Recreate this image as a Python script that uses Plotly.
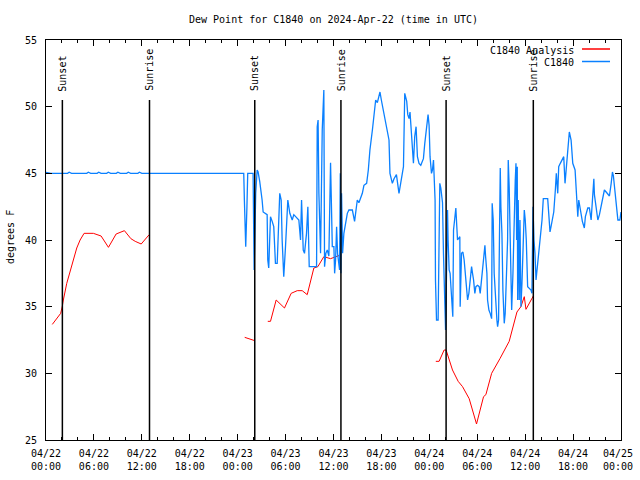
import pandas as pd
import plotly.graph_objects as go

BASE = pd.Timestamp("2024-04-22 00:00")

# Observed dew point (C1840), hours after 2024-04-22 00:00 UTC
obs_hours = [0, 0.6, 2.7, 2.9, 3.2, 5.1, 5.3, 5.6, 6.4, 6.6, 6.9, 7.6, 7.8, 8.1, 8.8, 9.0, 9.3,
             10.1, 10.3, 10.6, 11.5, 11.7, 12.0, 24.76, 24.84, 25.01, 25.16, 25.26, 25.93, 26.01,
             26.06, 26.26, 26.44, 26.56, 26.76, 27.06, 27.19, 27.69, 27.77, 27.89, 28.11, 28.32,
             28.52, 28.73, 28.95, 29.27, 29.45, 29.57, 29.77, 29.99, 30.28, 30.53, 30.83, 31.03,
             31.66, 31.87, 32.0, 32.21, 32.37, 32.62, 32.79, 32.96, 33.54, 33.88, 33.96, 34.07,
             34.17, 34.38, 34.59, 34.79, 34.88, 35.04, 35.22, 35.42, 35.63, 35.76, 35.85, 36.05,
             36.14, 36.26, 36.39, 36.51, 36.64, 36.76, 36.85, 36.93, 37.01, 37.14, 37.3, 37.52,
             37.73, 37.93, 38.36, 38.64, 38.98, 39.18, 39.61, 39.81, 40.15, 40.36, 40.56, 40.87,
             41.07, 41.28, 41.49, 41.69, 41.82, 41.99, 42.16, 42.41, 42.66, 42.95, 43.07, 43.37,
             43.58, 43.88, 44.2, 44.5, 44.76, 44.92, 45.17, 45.3, 45.46, 45.58, 45.88, 46.01,
             46.17, 46.34, 46.51, 46.71, 46.93, 47.26, 47.43, 47.68, 47.84, 47.97, 48.09, 48.27,
             48.39, 48.52, 48.6, 48.72, 48.77, 48.9, 49.1, 49.15, 49.31, 49.44, 49.52, 49.65,
             49.77, 49.94, 50.03, 50.1, 50.28, 50.35, 50.48, 50.6, 50.78, 50.94, 51.03, 51.19,
             51.32, 51.44, 51.53, 51.82, 51.86, 52.03, 52.2, 52.36, 52.48, 52.61, 52.79, 52.95,
             53.11, 53.29, 53.41, 53.54, 53.7, 53.83, 54.04, 54.24, 54.37, 54.45, 54.62, 54.79,
             54.96, 55.04, 55.21, 55.29, 55.46, 55.62, 55.8, 55.87, 56.0, 56.12, 56.3, 56.46,
             56.55, 56.67, 56.75, 56.88, 56.96, 57.09, 57.21, 57.38, 57.5, 57.63, 57.8, 57.88,
             58.0, 58.13, 58.22, 58.31, 58.47, 58.63, 58.76, 58.85, 58.93, 59.01, 59.06, 59.13,
             59.26, 59.35, 59.47, 59.6, 59.76, 59.89, 60.01, 60.14, 60.31, 60.51, 60.73, 60.85,
             60.98, 61.1, 61.23, 61.36, 61.48, 61.64, 61.77, 61.98, 62.11, 62.27, 62.82, 62.95,
             63.11, 63.24, 63.36, 63.58, 63.78, 63.9, 64.08, 64.2, 64.4, 64.58, 64.83, 64.99,
             65.16, 65.33, 65.53, 65.75, 65.96, 66.25, 66.46, 66.59, 66.71, 66.91, 67.16, 67.41,
             67.54, 67.84, 68.04, 68.26, 68.42, 68.6, 68.67, 68.88, 69.1, 69.3, 69.51, 69.72,
             69.92, 70.14, 70.35, 70.55, 70.77, 70.93, 71.05, 71.18, 71.39, 71.61, 71.86, 72.0]
obs_values = [45.08, 45.0, 45.0, 45.08, 45.0, 45.0, 45.08, 45.0, 45.0, 45.08, 45.0, 45.0, 45.08,
              45.0, 45.0, 45.08, 45.0, 45.0, 45.08, 45.0, 45.0, 45.08, 45.0, 45.0, 43.0, 39.5,
              42.5, 45.0, 45.0, 41.5, 37.75, 43.5, 45.25, 45.1, 44.4, 43.0, 42.1, 41.9, 38.5,
              37.9, 41.75, 41.4, 41.0, 38.25, 38.25, 43.5, 43.0, 40.0, 37.25, 39.5, 43.0, 42.0,
              41.5, 41.9, 41.5, 40.0, 43.0, 39.25, 39.0, 40.5, 42.5, 38.0, 38.0, 38.0, 48.5,
              49.0, 43.5, 39.0, 48.25, 51.25, 38.0, 39.0, 39.25, 38.8, 45.8, 42.5, 39.5, 39.5,
              37.5, 38.5, 41.0, 39.0, 38.0, 37.75, 45.0, 37.5, 43.5, 39.0, 40.5, 41.4, 42.0,
              42.25, 42.25, 41.4, 43.0, 42.8, 43.5, 44.1, 44.25, 45.25, 46.75, 48.25, 49.4,
              50.5, 50.3, 50.9, 51.1, 50.5, 50.0, 49.0, 48.4, 47.5, 45.0, 44.25, 44.6, 44.9,
              43.5, 44.75, 45.5, 51.0, 50.4, 49.4, 49.1, 49.6, 46.75, 45.75, 47.75, 48.5, 46.25,
              45.75, 45.6, 46.1, 47.25, 48.6, 49.4, 48.6, 46.25, 45.0, 45.25, 46.0, 44.5, 43.0,
              37.0, 34.0, 34.0, 37.0, 44.25, 43.9, 43.25, 42.8, 39.0, 35.0, 33.25, 35.5, 42.25,
              40.0, 37.75, 37.5, 35.5, 34.25, 40.75, 41.75, 42.4, 41.0, 40.0, 40.25, 35.0, 39.0,
              39.1, 38.5, 37.5, 36.5, 35.5, 36.0, 37.0, 38.0, 37.5, 37.0, 36.0, 36.5, 36.6, 36.5,
              36.0, 36.5, 37.5, 39.0, 39.6, 38.8, 37.5, 35.5, 34.75, 34.5, 34.1, 42.75, 41.5,
              37.5, 35.0, 34.0, 33.5, 34.0, 38.5, 45.4, 42.5, 40.5, 36.25, 33.75, 34.5, 37.5,
              40.0, 46.0, 44.0, 40.0, 37.5, 34.75, 37.5, 42.5, 44.5, 45.75, 40.0, 45.5, 35.5,
              43.0, 35.5, 41.5, 35.0, 36.75, 41.0, 42.25, 41.5, 40.0, 36.5, 36.4, 36.25, 36.0,
              42.5, 40.0, 39.0, 37.0, 37.8, 38.5, 39.5, 40.5, 41.5, 43.1, 43.1, 42.0, 40.6, 41.0,
              41.5, 42.1, 43.75, 45.0, 43.5, 45.5, 45.75, 46.0, 46.25, 44.25, 45.5, 47.25, 48.1,
              47.5, 45.75, 45.25, 43.4, 41.75, 43.0, 42.25, 41.4, 40.9, 41.75, 42.4, 42.4, 41.5,
              42.75, 44.6, 43.4, 42.4, 41.5, 41.9, 42.5, 43.1, 43.75, 43.6, 43.4, 43.3, 44.25,
              45.1, 44.8, 44.0, 42.4, 41.5, 41.5, 42.1]

# Analysis dew point (None = gap)
ana_hours = [0.79, 1.84, 2.05, 2.17, 2.6, 2.92, 3.43, 3.85, 4.27, 4.77, 5.93, 6.56, 6.9, 7.82,
             8.78, 9.82, 10.63, 11.17, 11.92, 12.92, 13.5,
             24.88, 25.47, 26.14, 27.0,
             27.77, 28.11, 28.82, 29.86, 30.7, 31.46, 32.08, 32.71, 33.54, 34.04, 34.79, 35.63,
             36.98, 37.5,
             48.81, 49.22, 49.85, 50.1, 50.9, 51.61, 52.16, 52.99, 53.91, 54.79, 55.08, 55.8,
             56.84, 58.0, 58.97, 59.47, 59.89, 60.1, 61.02]
ana_values = [33.67, 34.5, 35.05, 35.5, 36.75, 37.4, 38.5, 39.4, 40.0, 40.5, 40.5, 40.4, 40.3,
              39.45, 40.45, 40.7, 40.1, 39.9, 39.7, 40.4, None,
              32.7, 32.6, 32.45, None,
              33.9, 33.9, 35.5, 34.9, 36.0, 36.2, 36.2, 35.9, 37.9, 38.0, 38.75, 38.6, 38.9, None,
              30.9, 30.9, 31.75, 31.75, 30.25, 29.4, 29.0, 28.1, 26.2, 28.25, 28.4, 30.0, 31.1,
              32.4, 34.6, 35.0, 35.75, 34.8, 35.8]

sun_hours = [2.05, 12.96, 26.14, 36.93, 50.1, 61.02]
sun_labels = ["Sunset", "Sunrise", "Sunset", "Sunrise", "Sunset", "Sunrise"]

tick_hours = list(range(0, 73, 6))
NB = "\u00a0"
tick_text = ["04/22<br>00:00", "04/22<br>06:00", "04/22<br>12:00", "04/22<br>18:00",
             "04/23<br>00:00", "04/23<br>06:00", "04/23<br>12:00", "04/23<br>18:00",
             "04/24<br>00:00", "04/24<br>06:00", "04/24<br>12:00", "04/24<br>18:00",
             "04/25" + NB + "<br>00:00" + NB]
y_ticks = [25, 30, 35, 40, 45, 50, 55]


def to_time(hours):
    return [BASE + pd.Timedelta(hours=h) for h in hours]


FONT = "DejaVu Sans Mono"
BLUE = "#0a80ff"
RED = "#ff0000"

fig = go.Figure()
fig.add_trace(go.Scatter(x=to_time(ana_hours), y=ana_values, mode="lines",
                         line=dict(color=RED, width=1), name="C1840 Analysis",
                         connectgaps=False, showlegend=False))
fig.add_trace(go.Scatter(x=to_time(obs_hours), y=obs_values, mode="lines",
                         line=dict(color=BLUE, width=1.3), name="C1840",
                         showlegend=False))

for h, lab in zip(sun_hours, sun_labels):
    t = BASE + pd.Timedelta(hours=h)
    fig.add_shape(type="line", xref="x", yref="y", x0=t, x1=t, y0=25, y1=50.5,
                  line=dict(color="black", width=1.5), layer="above")
    fig.add_annotation(x=t, y=51.0, xref="x", yref="y", text=lab, textangle=-90,
                       showarrow=False, xanchor="center", yanchor="bottom",
                       font=dict(family=FONT, size=10, color="black"))

# Legend (gnuplot style: text right, sample line to the right)
L, R, T, B = 46, 621, 40, 440


def px(xp):
    return (xp - L) / (R - L)


def py(yp):
    return 1 - (yp - T) / (B - T)


for name, color, yy in [("C1840 Analysis", RED, 50), ("C1840", BLUE, 62.5)]:
    fig.add_annotation(x=px(575), y=py(yy), xref="paper", yref="paper", text=name,
                       showarrow=False, xanchor="right", yanchor="middle", borderpad=0,
                       font=dict(family=FONT, size=10, color="black"))
    fig.add_shape(type="line", xref="paper", yref="paper", x0=px(582), x1=px(610),
                  y0=py(yy - 1), y1=py(yy - 1), line=dict(color=color, width=1.5))

fig.add_annotation(x=px(11), y=py(237), xref="paper", yref="paper", text="degrees F",
                   textangle=-90, showarrow=False, xanchor="center", yanchor="middle",
                   font=dict(family=FONT, size=10, color="black"))

fig.update_layout(
    width=640, height=480,
    margin=dict(l=L, r=640 - R, t=T, b=480 - B, autoexpand=False),
    paper_bgcolor="white", plot_bgcolor="white",
    title=dict(text="Dew Point for C1840 on 2024-Apr-22 (time in UTC)",
               x=(L + R) / 2 / 640, xanchor="center", xref="container",
               y=1 - 19 / 480, yanchor="middle", yref="container",
               font=dict(family=FONT, size=10, color="black"), automargin=False),
    showlegend=False,
)
fig.update_xaxes(
    type="date", range=[BASE, BASE + pd.Timedelta(hours=72)], automargin=False,
    tickmode="array", tickvals=to_time(tick_hours), ticktext=tick_text,
    ticks="inside", ticklen=6, tickcolor="black", mirror="ticks",
    showline=True, linecolor="black", linewidth=1, showgrid=False, zeroline=False,
    tickfont=dict(family=FONT, size=10, color="black"), ticklabelstandoff=4,
    ticklabeloverflow="allow",
    minor=dict(tickmode="linear", tick0=BASE, dtick=2 * 3600 * 1000, ticks="inside",
               ticklen=3, tickcolor="black", showgrid=False),
)
fig.update_yaxes(
    range=[25, 55], tickmode="array", tickvals=y_ticks, automargin=False,
    ticks="inside", ticklen=6, tickcolor="black", mirror="ticks",
    showline=True, linecolor="black", linewidth=1, showgrid=False, zeroline=False,
    tickfont=dict(family=FONT, size=10, color="black"), ticklabelstandoff=6,
)

fig.write_html(
    "out.html",
    config={"displayModeBar": False},
    post_script="document.body.style.margin='0';document.body.style.padding='0';"
                "document.body.style.overflow='hidden';",
)
